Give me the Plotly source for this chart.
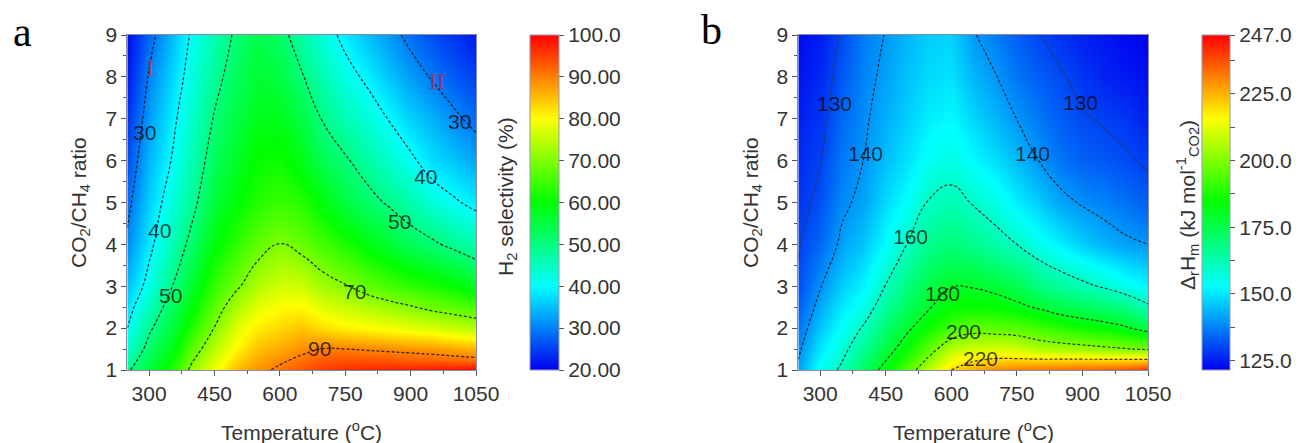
import plotly.graph_objects as go

# ---------------- data ----------------
temps = [250, 300, 350, 400, 450, 500, 550, 600, 650, 700, 750, 800, 850, 900, 950, 1000, 1050]
ratios = [1, 1.25, 1.5, 2, 2.5, 3, 4, 5, 6, 7, 8, 9]

# Panel a: H2 selectivity (%), one list per temperature, values from ratio 1 -> 9
sel_250 = [49, 46.5, 44, 40, 37.5, 35, 31, 28.5, 26, 24, 22, 21]
sel_300 = [56, 54, 52, 49, 45.5, 42, 38.5, 36.5, 34.5, 32.5, 30.5, 28]
sel_350 = [62, 60, 58, 55, 52.5, 49.5, 45.5, 42.5, 40, 38.5, 36.5, 34.5]
sel_400 = [72, 69.5, 67, 63, 59.5, 56.5, 52, 48.5, 46, 44, 42.5, 41]
sel_450 = [79, 77, 74.5, 70.2, 67, 64, 59, 55.5, 53, 50.5, 48, 46]
sel_500 = [85, 83, 80.5, 77.5, 73.5, 69, 63.5, 59.5, 57, 55, 53, 51]
sel_550 = [88.5, 87, 85, 81.5, 78, 74, 67.5, 63, 60.5, 58, 56, 54]
sel_600 = [91, 89, 86.5, 83, 80, 76.5, 70.1, 64.5, 61, 58, 55, 52]
sel_650 = [93.5, 91, 88.7, 84.5, 80.5, 76, 68, 63, 58.5, 55, 50.5, 47]
sel_700 = [95.5, 93, 90.2, 82.5, 77.5, 72.5, 65, 59, 53.5, 49.5, 46, 42.5]
sel_750 = [96.5, 93.5, 90, 81, 75.5, 70.5, 62, 55, 50.7, 46, 42, 38.5]
sel_800 = [97, 93.5, 89.5, 80, 74, 67.5, 59, 52, 47.5, 43, 39, 35]
sel_850 = [97.5, 93, 89, 79, 72, 65.5, 56, 49.3, 44, 39.8, 35.5, 32]
sel_900 = [98, 92.5, 88.5, 78, 70.5, 63.5, 53, 46.5, 41, 36.5, 32.5, 28.5]
sel_950 = [98.5, 92, 88, 77, 68.5, 62, 51, 43, 37.5, 34, 29.5, 26]
sel_1000 = [99, 91.5, 87, 75.5, 67, 60, 48.5, 40.7, 35.5, 31, 27, 24]
sel_1050 = [99.5, 91, 86, 74, 65.5, 57, 46, 38.5, 33, 28.5, 25, 22]

# Panel b: reaction enthalpy (kJ mol-1 CO2), one list per temperature, ratio 1 -> 9
dh_250 = [141.5, 140, 138.5, 135.5, 133, 131, 129.5, 128, 127, 125.5, 124, 123]
dh_300 = [155, 152.5, 150, 146, 142.5, 139.5, 134.5, 131.5, 129.7, 128, 126.5, 125]
dh_350 = [161.5, 159.5, 157.5, 154, 150.5, 147, 141.5, 138.5, 136.5, 134.5, 132.5, 130.8]
dh_400 = [173, 169.5, 166, 161, 155.5, 152, 146, 142, 140.1, 139, 138, 136.8]
dh_450 = [183.5, 179.5, 176, 170.5, 165, 160.3, 153, 148.5, 145, 143, 141.5, 140.3]
dh_500 = [195, 190, 185, 178.5, 173, 168.5, 160.3, 153.5, 149.5, 147, 145.5, 144]
dh_550 = [208, 202, 196, 186, 179.5, 176, 167, 160.7, 154.5, 151, 148.5, 147]
dh_600 = [220, 214, 207, 192.5, 184, 179.8, 169.5, 162.5, 156.5, 152.5, 149.5, 147.5]
dh_650 = [226, 218.5, 210, 196.5, 185, 179.5, 167, 159.5, 152.5, 148, 144, 140.5]
dh_700 = [230, 221, 211, 195.5, 184.5, 177.5, 163, 156.5, 149, 144, 140.4, 137]
dh_750 = [232, 221, 210, 194.5, 182, 174.5, 160, 151, 144.5, 139.9, 136, 133]
dh_800 = [233, 220.5, 206, 192, 179, 168.5, 155, 147, 140, 136.5, 133, 130.3]
dh_850 = [234, 220.5, 204.5, 189, 175, 165, 151, 142, 136, 133, 130.7, 127.5]
dh_900 = [235, 220.5, 203.5, 186, 173, 162, 147, 139.3, 133.5, 130.7, 128, 125.5]
dh_950 = [236, 220.4, 202, 184, 170.5, 159, 143.5, 137.5, 132.3, 129.3, 126, 124]
dh_1000 = [237, 220.3, 200.5, 181, 167.5, 155, 141.3, 135.5, 130.8, 128, 124.5, 122.5]
dh_1050 = [242, 220.5, 199, 176, 161.5, 152, 140, 133, 129, 125.5, 123.3, 121.7]

levels_a = [30, 40, 50, 70, 90]
levels_b = [130, 140, 160, 180, 200, 220]

# contour label texts and where they sit (T, ratio)
labels_a = [("30", 290, 6.66), ("40", 325, 4.34), ("50", 348, 2.79), ("70", 772, 2.88),
            ("90", 692, 1.52), ("50", 875, 4.55), ("40", 933, 5.63), ("30", 1013, 6.94)]
labels_b = [("130", 332, 7.37), ("140", 403, 6.18), ("160", 506, 4.19), ("180", 579, 2.83),
            ("200", 628, 1.92), ("220", 666, 1.28), ("130", 895, 7.38), ("140", 785, 6.17)]
regions_a = [("I", 301, 8.22), ("II", 960, 7.9)]

cbar_a_vals = [20, 30, 40, 50, 60, 70, 80, 90, 100]
cbar_a_text = ["20.00", "30.00", "40.00", "50.00", "60.00", "70.00", "80.00", "90.00", "100.0"]
cbar_b_vals = [125, 137.5, 150, 162.5, 175, 187.5, 200, 212.5, 225, 237.5, 247]
cbar_b_text = ["125.0", "", "150.0", "", "175.0", "", "200.0", "", "225.0", "", "247.0"]

# ---------------- build ----------------
cols_a = [sel_250, sel_300, sel_350, sel_400, sel_450, sel_500, sel_550, sel_600, sel_650,
          sel_700, sel_750, sel_800, sel_850, sel_900, sel_950, sel_1000, sel_1050]
cols_b = [dh_250, dh_300, dh_350, dh_400, dh_450, dh_500, dh_550, dh_600, dh_650,
          dh_700, dh_750, dh_800, dh_850, dh_900, dh_950, dh_1000, dh_1050]
z_a = [list(r) for r in zip(*cols_a)]
z_b = [list(r) for r in zip(*cols_b)]

jet = [[0.0, "#0000f0"], [0.25, "#00ffff"], [0.5, "#00ff00"], [0.75, "#ffff00"], [1.0, "#ff0000"]]

# the page body adds an 8 px offset, so the figure is 8 px smaller and shifted
OFF = 8
W, H = 1305 - OFF, 443 - OFF
FONT = "Liberation Sans, Arial, sans-serif"
TXT = "#333333"

def px_x(p):
    return (p - OFF) / W

def px_y(p):
    return 1 - (p - OFF) / H

plot_top, plot_bot = 35, 370
xa_dom = [px_x(127.3), px_x(476)]
xb_dom = [px_x(798.3), px_x(1148)]
y_dom = [px_y(plot_bot), px_y(plot_top)]
cb_len = y_dom[1] - y_dom[0]

fig = go.Figure()

cb_font = dict(family=FONT, size=21, color=TXT)
fig.add_trace(go.Heatmap(
    x=temps, y=ratios, z=z_a, zsmooth="best", colorscale=jet, zmin=20, zmax=100,
    xaxis="x", yaxis="y", hoverinfo="skip",
    colorbar=dict(x=px_x(530), xanchor="left", xpad=0, y=y_dom[0], yanchor="bottom", ypad=0,
                  len=cb_len, lenmode="fraction", thickness=29, outlinewidth=1,
                  outlinecolor="#9a9ab0", tickmode="array", tickvals=cbar_a_vals,
                  ticktext=cbar_a_text, ticks="outside", ticklen=5, tickcolor="#555",
                  tickprefix=" ", tickfont=cb_font)))

fig.add_trace(go.Heatmap(
    x=temps, y=ratios, z=z_b, zsmooth="best", colorscale=jet, zmin=121.5, zmax=247,
    xaxis="x2", yaxis="y2", hoverinfo="skip",
    colorbar=dict(x=px_x(1202), xanchor="left", xpad=0, y=y_dom[0], yanchor="bottom", ypad=0,
                  len=cb_len, lenmode="fraction", thickness=28, outlinewidth=1,
                  outlinecolor="#9a9ab0", tickmode="array", tickvals=cbar_b_vals,
                  ticktext=cbar_b_text, ticks="outside", ticklen=5, tickcolor="#555",
                  tickprefix=" ", tickfont=cb_font)))

for lv in levels_a:
    fig.add_trace(go.Contour(
        x=temps, y=ratios, z=z_a, xaxis="x", yaxis="y", showscale=False, hoverinfo="skip",
        contours=dict(start=lv, end=lv, size=1, coloring="none"),
        line=dict(color="rgba(20,20,20,0.85)", width=1.3, dash="3px,2px", smoothing=1.3)))

for lv in levels_b:
    solid = lv == 130
    fig.add_trace(go.Contour(
        x=temps, y=ratios, z=z_b, xaxis="x2", yaxis="y2", showscale=False, hoverinfo="skip",
        contours=dict(start=lv, end=lv, size=1, coloring="none"),
        line=dict(color="rgba(50,50,80,0.55)" if solid else "rgba(20,20,20,0.85)",
                  width=1.2, dash="solid" if solid else "3px,2px", smoothing=1.3)))

axis_common = dict(range=[250, 1050], tickvals=[300, 450, 600, 750, 900, 1050],
                   ticks="outside", ticklen=5, tickcolor="#555", showline=True,
                   linecolor="#8a8aa0", linewidth=1, mirror=True, showgrid=False, zeroline=False,
                   tickfont=dict(family=FONT, size=21, color=TXT), automargin=False,
                   minor=dict(ticks="outside", ticklen=3, tick0=300, dtick=75, tickcolor="#555",
                              showgrid=False))
yaxis_common = dict(range=[1, 9], tickvals=[1, 2, 3, 4, 5, 6, 7, 8, 9], ticks="outside",
                    ticklen=5, tickcolor="#555", showline=True, linecolor="#8a8aa0",
                    linewidth=1, mirror=True, showgrid=False, zeroline=False,
                    tickfont=dict(family=FONT, size=21, color=TXT), automargin=False,
                    minor=dict(ticks="outside", ticklen=3, tick0=1, dtick=0.5, tickcolor="#555",
                               showgrid=False))

fig.update_layout(
    width=W, height=H, margin=dict(l=0, r=0, t=0, b=0, pad=0, autoexpand=False),
    paper_bgcolor="white", plot_bgcolor="white", showlegend=False,
    xaxis=dict(domain=xa_dom, anchor="y", **axis_common),
    yaxis=dict(domain=y_dom, anchor="x", **yaxis_common),
    xaxis2=dict(domain=xb_dom, anchor="y2", **axis_common),
    yaxis2=dict(domain=y_dom, anchor="x2", **yaxis_common),
)

ann = []
lab_font = dict(family=FONT, size=21, color="rgba(0,0,0,0.72)")
for t, xv, yv in labels_a:
    ann.append(dict(x=xv, y=yv, xref="x", yref="y", text=t, showarrow=False, font=lab_font,
                    xanchor="center", yanchor="middle"))
for t, xv, yv in labels_b:
    ann.append(dict(x=xv, y=yv, xref="x2", yref="y2", text=t, showarrow=False, font=lab_font,
                    xanchor="center", yanchor="middle"))
for t, xv, yv in regions_a:
    ann.append(dict(x=xv, y=yv, xref="x", yref="y", text=t, showarrow=False,
                    xanchor="center", yanchor="middle",
                    font=dict(family="Liberation Serif, Times New Roman, serif", size=24,
                              color="rgba(205,40,60,0.75)")))

title_font = dict(family=FONT, size=21, color=TXT)

def paper_text(cx, cy, text, font, angle=0):
    return dict(x=px_x(cx), y=px_y(cy), xref="paper", yref="paper", text=text,
                showarrow=False, font=font, textangle=angle,
                xanchor="center", yanchor="middle")

for cx in (301.6, 973.2):
    ann.append(paper_text(cx, 431, "Temperature (<sup>o</sup>C)", title_font))
for cx in (80, 752):
    ann.append(paper_text(cx, 203, "CO<sub>2</sub>/CH<sub>4</sub> ratio", title_font, -90))
ann.append(paper_text(507, 197, "H<sub>2</sub> selectivity (%)", title_font, -90))
ann.append(paper_text(1187, 205, "Δ<sub>r</sub>H<sub>m</sub> (kJ mol<sup>-1</sup><sub>CO2</sub>)",
                      title_font, -90))
letter_font = dict(family="Liberation Serif, Times New Roman, serif", size=42, color="black")
ann.append(paper_text(22, 32, "a", letter_font))
ann.append(paper_text(711, 30, "b", letter_font))

fig.update_layout(annotations=ann)
fig.write_html("out.html")
